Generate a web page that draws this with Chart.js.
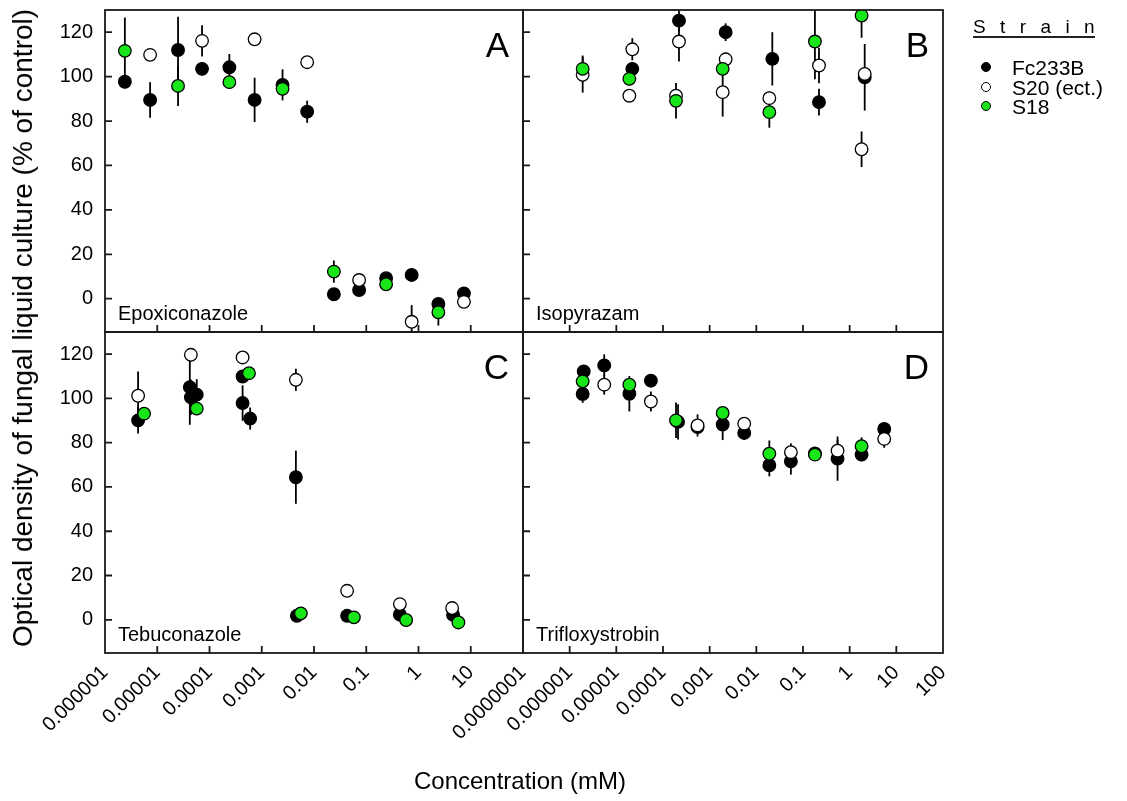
<!DOCTYPE html>
<html>
<head>
<meta charset="utf-8">
<script src="https://cdn.jsdelivr.net/npm/chart.js@4.4.1/dist/chart.umd.min.js"></script>
<style>
  body { margin: 0; background: #fff; }
  #page { position: relative; width: 1127px; height: 801px; font-family: "Liberation Sans", Arial, sans-serif; color: #000; overflow: hidden; }
  canvas { position: absolute; left: 0; top: 0; }
  .ytitle { position: absolute; left: 23px; top: 328px; transform: translate(-50%, -50%) rotate(-90deg); white-space: nowrap; font-size: 28px; }
  .xtitle { position: absolute; left: 520px; top: 781px; transform: translate(-50%, -50%); white-space: nowrap; font-size: 24px; }
  .lg-title { position: absolute; left: 973px; top: 17px; font-size: 19px; letter-spacing: 14.4px; line-height: 1; }
  .lg-line { position: absolute; left: 973px; top: 36px; width: 122px; height: 1.5px; background: #222; }
  .lg-row { position: absolute; left: 981px; height: 22px; display: flex; align-items: center; font-size: 21px; line-height: 1; }
  .lg-dot { width: 10px; height: 10px; border-radius: 50%; border: 1.2px solid #000; box-sizing: border-box; margin-right: 21px; }
</style>
</head>
<body>
<div id="page">
  <canvas id="cA" width="1127" height="801"></canvas>
  <canvas id="cB" width="1127" height="801"></canvas>
  <canvas id="cC" width="1127" height="801"></canvas>
  <canvas id="cD" width="1127" height="801"></canvas>
  <div class="ytitle">Optical density of fungal liquid culture (% of control)</div>
  <div class="xtitle">Concentration (mM)</div>
  <div class="lg-title">Strain</div>
  <div class="lg-line"></div>
  <div class="lg-row" style="top:56px"><div class="lg-dot" style="background:#000"></div>Fc233B</div>
  <div class="lg-row" style="top:76px"><div class="lg-dot" style="background:#fff"></div>S20 (ect.)</div>
  <div class="lg-row" style="top:95px"><div class="lg-dot" style="background:#19e619"></div>S18</div>
</div>
<script>
// axis ticks ------------------------------------------------
const leftDecades = [1e-6, 1e-5, 1e-4, 1e-3, 1e-2, 1e-1, 1, 10, 100];
const leftDecadeLabels = ['0.000001', '0.00001', '0.0001', '0.001', '0.01', '0.1', '1', '10', ''];
const rightDecades = [1e-7, 1e-6, 1e-5, 1e-4, 1e-3, 1e-2, 1e-1, 1, 10, 100];
const rightDecadeLabels = ['0.0000001', '0.000001', '0.00001', '0.0001', '0.001', '0.01', '0.1', '1', '10', '100'];
const yTicks = [0, 20, 40, 60, 80, 100, 120];

// A - Epoxiconazole ------------------------------------------
const epoxFcX = [2.4e-6, 7.3e-6, 2.5e-5, 7.2e-5, 2.4e-4, 7.3e-4, 2.5e-3, 7.4e-3, 0.024, 0.073, 0.24, 0.74, 2.4, 7.4];
const epoxFcY = [97.7, 89.5, 112, 103.5, 104.2, 89.5, 96.3, 84.2, 2.0, 3.9, 9.2, 10.7, -2.4, 2.4];
const epoxFcErr = [3, 8, 15, 3, 6, 10, 7, 5, 2, 2, 2, 2, 2, 2];
const epoxS20X = [7.3e-6, 7.2e-5, 7.3e-4, 7.4e-3, 0.073, 0.74, 7.4];
const epoxS20Y = [109.8, 116.1, 116.8, 106.5, 8.4, -10.4, -1.4];
const epoxS20Err = [2, 7, 2, 2, 2, 7.5, 2];
const epoxS18X = [2.4e-6, 2.5e-5, 2.4e-4, 2.5e-3, 0.024, 0.24, 2.4];
const epoxS18Y = [111.6, 95.8, 97.5, 94.5, 12.2, 6.5, -6.1];
const epoxS18Err = [15, 9, 3, 3, 5, 2, 6];

// B - Isopyrazam ---------------------------------------------
const isoFcX = [2.2e-5, 2.2e-4, 2.2e-3, 0.022, 0.22, 2.1];
const isoFcY = [103.5, 125.2, 120.0, 108.0, 88.5, 99.7];
const isoFcErr = [3, 5, 4, 12, 6, 15];
const isoS20X = [1.9e-6, 1.9e-5, 2.2e-5, 1.9e-4, 2.2e-4, 1.9e-3, 2.2e-3, 0.019, 0.22, 1.8, 2.1];
const isoS20Y = [100.8, 91.4, 112.3, 91.4, 115.8, 93.0, 107.8, 90.3, 105.0, 67.3, 101.2];
const isoS20Err = [8, 2, 5, 2, 9, 11, 3, 3, 8, 8, 3];
const isoS18X = [1.9e-6, 1.9e-5, 1.9e-4, 1.9e-3, 0.019, 0.18, 1.8];
const isoS18Y = [103.5, 99.0, 89.1, 103.5, 84.0, 115.8, 127.5];
const isoS18Err = [6, 3, 8, 3, 7, 17, 10];

// C - Tebuconazole -------------------------------------------
const tebFcX = [4.3e-6, 4.2e-5, 4.4e-5, 5.7e-5, 4.3e-4, 4.3e-4, 6.0e-4, 4.5e-3, 4.7e-3, 0.043, 0.44, 4.6];
const tebFcY = [90.1, 105.1, 100.5, 101.7, 109.9, 97.9, 90.9, 64.4, 1.8, 1.8, 2.3, 2.2];
const tebFcErr = [6, 17, 8, 7, 2, 8, 5, 12, 1, 1, 1, 1];
const tebS20X = [4.3e-6, 4.4e-5, 4.3e-4, 4.5e-3, 0.043, 0.44, 4.4];
const tebS20Y = [101.2, 119.7, 118.5, 108.4, 13.1, 7.1, 5.3];
const tebS20Err = [11, 3, 2, 5, 1, 1, 1];
const tebS18X = [5.6e-6, 5.7e-5, 5.7e-4, 5.6e-3, 0.058, 0.58, 5.8];
const tebS18Y = [93.1, 95.4, 111.4, 2.9, 1.1, -0.1, -1.2];
const tebS18Err = [2, 3, 2, 1, 1, 1, 1];

// D - Trifloxystrobin ----------------------------------------
const triFcX = [2.0e-6, 1.9e-6, 5.5e-6, 1.9e-5, 5.5e-5, 2.1e-4, 5.5e-4, 1.9e-3, 5.5e-3, 0.019, 0.055, 0.18, 0.55, 1.8, 5.5];
const triFcY = [112.2, 102.0, 114.9, 102.1, 108.0, 89.4, 87.1, 88.2, 84.4, 69.8, 71.6, 75.1, 72.8, 74.6, 86.2];
const triFcErr = [2, 4, 5, 8, 2, 8, 3, 7, 3, 5, 6, 2, 10, 3, 2];
const triS20X = [5.5e-6, 5.5e-5, 5.5e-4, 5.5e-3, 0.055, 0.55, 5.5];
const triS20Y = [106.2, 98.6, 87.8, 88.6, 75.7, 76.4, 81.7];
const triS20Err = [4.5, 4.5, 5, 3, 4, 5, 4];
const triS18X = [1.9e-6, 1.9e-5, 1.9e-4, 1.9e-3, 0.019, 0.18, 1.8];
const triS18Y = [107.7, 106.2, 90.1, 93.4, 75.0, 74.6, 78.4];
const triS18Err = [3, 3, 8, 2, 6, 2, 4];

const PAGE_W = 1127, PAGE_H = 801;
const FONT = '"Liberation Sans", Arial, sans-serif';
const Y_LABEL_W = 70;   // room for y tick labels
const X_LABEL_H = 120;  // room for rotated x tick labels

// error bars, frame, inward ticks, panel texts
const panelDecor = {
  id: 'panelDecor',
  beforeDatasetsDraw(chart) {
    const { ctx, chartArea: a, scales: { y } } = chart;
    ctx.save();
    ctx.beginPath();
    ctx.rect(a.left, a.top, a.width, a.height);
    ctx.clip();
    ctx.strokeStyle = '#000';
    ctx.lineWidth = 1.8;
    chart.data.datasets.forEach((ds, i) => {
      chart.getDatasetMeta(i).data.forEach((pt, j) => {
        const v = ds.data[j].y, e = ds.err[j];
        ctx.beginPath();
        ctx.moveTo(pt.x, y.getPixelForValue(v + e));
        ctx.lineTo(pt.x, y.getPixelForValue(v - e));
        ctx.stroke();
      });
    });
    ctx.restore();
  },
  afterDraw(chart, args, opts) {
    const { ctx, chartArea: a, scales: { x, y } } = chart;
    ctx.save();
    ctx.strokeStyle = '#1a1a1a';
    ctx.lineWidth = 1.8;
    ctx.strokeRect(a.left, a.top, a.width, a.height);
    ctx.beginPath();
    yTicks.forEach(v => {
      const py = y.getPixelForValue(v);
      ctx.moveTo(a.left, py);
      ctx.lineTo(a.left + 7, py);
    });
    x.ticks.forEach(t => {
      if (t.value <= x.min || t.value >= x.max) return;
      const px = x.getPixelForValue(t.value);
      ctx.moveTo(px, a.bottom);
      ctx.lineTo(px, a.bottom - 7);
    });
    ctx.stroke();
    ctx.fillStyle = '#000';
    ctx.textBaseline = 'alphabetic';
    ctx.font = '35px ' + FONT;
    ctx.textAlign = 'right';
    ctx.fillText(opts.letter, a.right - 14, a.top + 47);
    ctx.font = '20px ' + FONT;
    ctx.textAlign = 'left';
    ctx.fillText(opts.drug, a.left + 13, a.bottom - 12);
    ctx.restore();
  }
};

function makeSeries(label, x, y, err, fill, order) {
  return { label, x, y, err, fill, order };
}

function makePanel(id, box, xMin, xMax, ticks, tickLabels, showX, showY, letter, drug, series) {
  const yW = showY ? Y_LABEL_W : 0;
  const xH = showX ? X_LABEL_H : 0;
  return new Chart(document.getElementById(id), {
    type: 'scatter',
    data: {
      datasets: series.map(s => ({
        label: s.label,
        data: s.x.map((v, i) => ({ x: v, y: s.y[i] })),
        err: s.err,
        order: s.order,
        pointRadius: 6.3,
        pointHoverRadius: 6.3,
        pointBackgroundColor: s.fill,
        pointBorderColor: '#000',
        pointBorderWidth: 1.3
      }))
    },
    options: {
      responsive: false,
      animation: false,
      events: [],
      layout: { padding: { left: box.l - yW, top: box.t, right: PAGE_W - box.r, bottom: PAGE_H - box.b - xH } },
      plugins: {
        legend: { display: false },
        tooltip: { enabled: false },
        panelDecor: { letter, drug }
      },
      scales: {
        x: {
          type: 'logarithmic',
          min: xMin,
          max: xMax,
          grid: { display: false, drawTicks: false },
          border: { display: false },
          afterBuildTicks: sc => { sc.ticks = ticks.map(v => ({ value: v })); },
          afterFit: sc => { sc.height = xH; sc.paddingLeft = 0; sc.paddingRight = 0; },
          ticks: {
            display: showX,
            autoSkip: false,
            minRotation: 45,
            maxRotation: 45,
            padding: 8,
            color: '#000',
            font: { family: FONT, size: 20 },
            callback: (v, i) => tickLabels[i]
          }
        },
        y: {
          type: 'linear',
          min: -15,
          max: 130,
          grid: { display: false, drawTicks: false },
          border: { display: false },
          afterBuildTicks: sc => { sc.ticks = yTicks.map(v => ({ value: v })); },
          afterFit: sc => { sc.width = yW; sc.paddingTop = 0; sc.paddingBottom = 0; },
          ticks: {
            display: showY,
            padding: 12,
            color: '#000',
            font: { family: FONT, size: 20 },
            callback: (v, i) => String(yTicks[i])
          }
        }
      }
    },
    plugins: [panelDecor]
  });
}

const BLACK = '#000000', WHITE = '#ffffff', GREEN = '#19e619';

makePanel('cA', { l: 105, t: 10, r: 523, b: 332 }, 1e-6, 100, leftDecades, leftDecadeLabels, false, true, 'A', 'Epoxiconazole', [
  makeSeries('Fc233B', epoxFcX, epoxFcY, epoxFcErr, BLACK, 3),
  makeSeries('S20 (ect.)', epoxS20X, epoxS20Y, epoxS20Err, WHITE, 2),
  makeSeries('S18', epoxS18X, epoxS18Y, epoxS18Err, GREEN, 1)
]);
makePanel('cB', { l: 523, t: 10, r: 943, b: 332 }, 1e-7, 100, rightDecades, rightDecadeLabels, false, false, 'B', 'Isopyrazam', [
  makeSeries('Fc233B', isoFcX, isoFcY, isoFcErr, BLACK, 3),
  makeSeries('S20 (ect.)', isoS20X, isoS20Y, isoS20Err, WHITE, 2),
  makeSeries('S18', isoS18X, isoS18Y, isoS18Err, GREEN, 1)
]);
makePanel('cC', { l: 105, t: 332, r: 523, b: 653 }, 1e-6, 100, leftDecades, leftDecadeLabels, true, true, 'C', 'Tebuconazole', [
  makeSeries('Fc233B', tebFcX, tebFcY, tebFcErr, BLACK, 3),
  makeSeries('S20 (ect.)', tebS20X, tebS20Y, tebS20Err, WHITE, 2),
  makeSeries('S18', tebS18X, tebS18Y, tebS18Err, GREEN, 1)
]);
makePanel('cD', { l: 523, t: 332, r: 943, b: 653 }, 1e-7, 100, rightDecades, rightDecadeLabels, true, false, 'D', 'Trifloxystrobin', [
  makeSeries('Fc233B', triFcX, triFcY, triFcErr, BLACK, 3),
  makeSeries('S20 (ect.)', triS20X, triS20Y, triS20Err, WHITE, 2),
  makeSeries('S18', triS18X, triS18Y, triS18Err, GREEN, 1)
]);
</script>
</body>
</html>
